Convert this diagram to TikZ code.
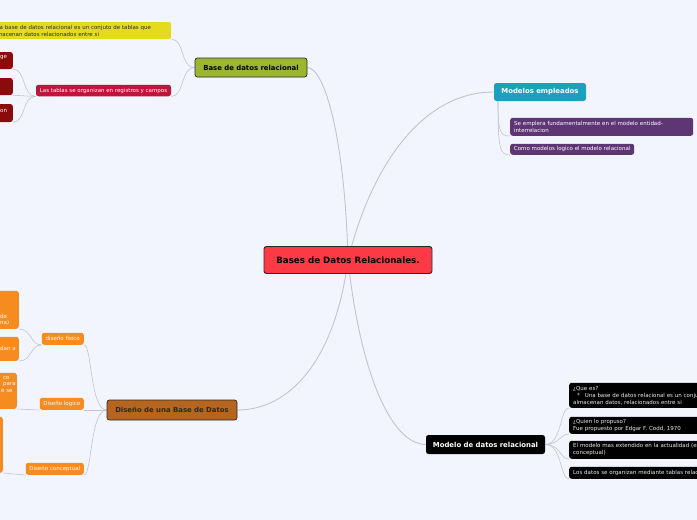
\documentclass[tikz,border=0pt]{standalone}
\usepackage{fontspec}
\setmainfont{DejaVu Sans}
\definecolor{bgc}{HTML}{F2F5FE}
\definecolor{linec}{HTML}{C2C4CE}
\definecolor{centralc}{HTML}{FC3A46}
\definecolor{olivec}{HTML}{9DB630}
\definecolor{tealc}{HTML}{1BA0C0}
\definecolor{brownc}{HTML}{B5651D}
\definecolor{orangec}{HTML}{F68B1F}
\definecolor{yellowc}{HTML}{E5DB1E}
\definecolor{crimsonc}{HTML}{C0143C}
\definecolor{darkredc}{HTML}{8B0A0A}
\definecolor{purplec}{HTML}{5E3674}
\definecolor{borderc}{HTML}{2A2A2A}
\pgfdeclarelayer{bg}
\pgfdeclarelayer{edges}
\pgfsetlayers{bg,edges,main}
\newcommand\smallf{\fontsize{5.5}{7}\selectfont}
\newcommand\bigf{\fontsize{6.9}{8}\selectfont\bfseries}
\begin{document}
\begin{tikzpicture}[x=1pt,y=-1pt,
  box/.style={rectangle, rounded corners=2.5pt, inner sep=0pt},
  topic/.style={box, font=\bigf},
  leaf/.style={box, font=\smallf, text=white},
  blk/.style={leaf, fill=black, text=white!92!black, anchor=south west, minimum width=300,
    text width=292, inner xsep=4pt, align=left},
  frag/.style={inner sep=0pt, anchor=west, font=\smallf, text=white},
  edge/.style={draw=linec, line width=0.9pt},
  sub/.style={draw=linec, line width=0.6pt}]
\begin{pgfonlayer}{bg}
\fill[bgc] (0,0) rectangle (697,520);
\end{pgfonlayer}
\path[use as bounding box] (0,0) rectangle (697,520);
\clip (0,0) rectangle (697,520);

% central
\node[box, fill=centralc, draw=borderc, line width=0.9pt, minimum width=168, minimum height=27,
  font=\fontsize{8.7}{10}\selectfont\bfseries] (c) at (348,260) {Bases de Datos Relacionales.};

% main topics
\node[topic, fill=olivec, draw=borderc, line width=0.7pt, minimum width=112, minimum height=19] (b) at (251,67.5) {Base de datos relacional};
\node[topic, fill=tealc, text=white, minimum width=92, minimum height=18] (m) at (540,92) {Modelos empleados};
\node[topic, fill=black, text=white, minimum width=119, minimum height=19] (md) at (485.5,444.5) {Modelo de datos relacional};
\node[topic, fill=brownc, text=borderc, draw=borderc, line width=0.7pt, minimum width=130, minimum height=20] (d) at (172,410) {Diseño de una Base de Datos};

% Base de datos relacional children
\node[leaf, fill=yellowc, text=borderc, anchor=west, minimum width=183, minimum height=17,
  text width=175, inner xsep=4pt, align=left] (y) at (-12,30.5)
  {Una base de datos relacional es un conjuto de tablas que\\almacenan datos relacionados entre si};
\node[leaf, fill=crimsonc, minimum width=135, minimum height=11.5] (las) at (103.5,90.5) {Las tablas se organizan en registros y campos};
\node[leaf, fill=darkredc, anchor=east, minimum width=30, minimum height=17] (r1) at (13,60.5) {};
\node[leaf, fill=darkredc, anchor=east, minimum width=30, minimum height=17] (r2) at (13,86.5) {};
\node[leaf, fill=darkredc, anchor=east, minimum width=30, minimum height=18] (r3) at (13,113) {};
\node[frag] (r1t) at (0,58) {ge};
\node[frag] (r3t) at (0,110.5) {on};

% Modelos empleados children
\node[leaf, fill=purplec, anchor=south west, minimum width=183, minimum height=18,
  text width=175, inner xsep=4pt, align=left] (s1) at (510,136)
  {Se emplera fundamentalmente en el modelo entidad-\\interrelacion};
\node[leaf, fill=purplec, anchor=south west, minimum width=124, minimum height=11] (s2) at (510,155)
  {Como modelos logico el modelo relacional};

% Modelo de datos relacional children
\node[blk, minimum height=25] (k1) at (569,408)
  {¿Que es?\\\hspace*{4pt}*\hspace*{3pt} Una base de datos relacional es un conjunto de tablas que\\almacenan datos, relacionados entre si};
\node[blk, minimum height=17] (k2) at (569,434)
  {¿Quien lo propuso?\\Fue propuesto por Edgar F. Codd, 1970};
\node[blk, minimum height=18] (k3) at (569,459)
  {El modelo mas extendido en la actualidad (es el modelo\\conceptual)};
\node[blk, minimum height=12] (k4) at (569,479)
  {Los datos se organizan mediante tablas relacionales};

% Diseño children
\node[leaf, fill=orangec, anchor=south east, minimum width=42, minimum height=12] (df) at (84,345) {diseño fisico};
\node[leaf, fill=orangec, anchor=south east, minimum width=44, minimum height=12] (dl) at (84,410) {Diseño logico};
\node[leaf, fill=orangec, anchor=south east, minimum width=58, minimum height=12] (dc) at (84,475) {Diseño conceptual};

\node[leaf, fill=orangec, anchor=south east, minimum width=40, minimum height=38] (fa) at (19,329) {};
\node[leaf, fill=orangec, anchor=south east, minimum width=40, minimum height=24] (fb) at (19,361) {};
\node[leaf, fill=orangec, anchor=south east, minimum width=40, minimum height=36] (fc) at (17,409) {};
\node[leaf, fill=orangec, anchor=south east, minimum width=30, minimum height=56] (fd) at (3,473) {};
\node[frag] (fat1) at (0,316.5) {de};
\node[frag] (fat2) at (0,323) {na)};
\node[frag] (fbt) at (0,348) {dan a};
\node[frag] (fct1) at (3,378) {co};
\node[frag] (fct2) at (3,384.5) {para};
\node[frag] (fct3) at (1,391) {e se};

\coordinate (mb) at (498,101);

\begin{pgfonlayer}{edges}
\draw[edge] (c.center) .. controls (345,140) and (325,68) .. (b.east);
\draw[edge] (c.center) .. controls (370,170) and (420,92) .. (m.west);
\draw[edge] (c.center) .. controls (335,360) and (290,410) .. (d.east);
\draw[edge] (c.center) .. controls (360,370) and (390,444) .. (md.west);

\draw[sub] (b.west) .. controls (180,68) and (185,39) .. (y.south east);
\draw[sub] (b.west) .. controls (180,68) and (185,96) .. (las.south east);
\draw[sub] (las.south west) .. controls (22,96) and (26,69) .. (r1.south east);
\draw[sub] (las.south west) -- (r2.south east);
\draw[sub] (las.south west) .. controls (22,96) and (26,122) .. (r3.south east);

\draw[sub] (mb) .. controls (498,132) and (500,136) .. (s1.south west);
\draw[sub] (mb) .. controls (498,150) and (500,155) .. (s2.south west);

\draw[sub] (md.east) .. controls (562,444) and (560,408) .. (k1.south west);
\draw[sub] (md.east) .. controls (560,444) and (560,434) .. (k2.south west);
\draw[sub] (md.east) .. controls (560,444) and (560,459) .. (k3.south west);
\draw[sub] (md.east) .. controls (562,444) and (560,479) .. (k4.south west);

\draw[sub] (d.west) .. controls (90,410) and (92,345) .. (df.south east);
\draw[sub] (d.west) -- (dl.south east);
\draw[sub] (d.west) .. controls (90,410) and (92,475) .. (dc.south east);
\draw[sub] (df.south west) .. controls (30,345) and (32,329) .. (fa.south east);
\draw[sub] (df.south west) .. controls (30,345) and (32,361) .. (fb.south east);
\draw[sub] (dl.south west) -- (fc.south east);
\draw[sub] (dc.south west) -- (fd.south east);
\end{pgfonlayer}
\end{tikzpicture}
\end{document}
